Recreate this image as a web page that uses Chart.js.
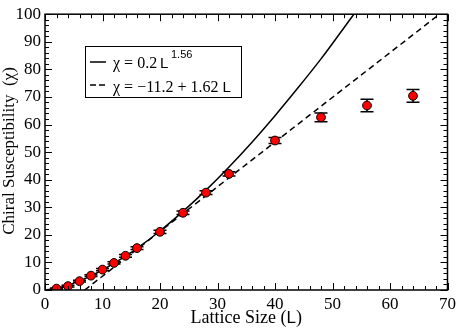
<!DOCTYPE html>
<html>
<head>
<meta charset="utf-8">
<script src="https://cdn.jsdelivr.net/npm/chart.js@4/dist/chart.umd.min.js"></script>
<style>
  html, body { margin: 0; padding: 0; background: #fff; }
  #wrap { width: 460px; height: 328px; }
</style>
</head>
<body>
<div id="wrap"><canvas id="chart"></canvas></div>
<script>
// measured points
const sizes = [2, 4, 6, 8, 10, 12, 14, 16, 20, 24, 28, 32, 40, 48, 56, 64];
const chi = [0.5, 1.4, 3.2, 5.2, 7.4, 9.8, 12.4, 15.2, 21.1, 28.0, 35.3, 42.1, 54.2, 62.6, 66.9, 70.4];
const chiErr = [0.2, 0.3, 0.3, 0.3, 0.4, 0.4, 0.5, 0.5, 0.6, 0.6, 0.7, 0.8, 1.1, 1.6, 2.3, 2.3];

// power law fit curve
const powerL = [0, 2, 4, 6, 8, 10, 12, 14, 16, 20, 24, 28, 32, 36, 40, 44, 48, 52, 54];
const powerChi = [0, 0.6, 1.7, 3.3, 5.1, 7.3, 9.7, 12.3, 15.1, 21.4, 28.5, 36.2, 44.6, 53.6, 63.2, 73.3, 83.8, 95.1, 100.8];

// linear fit, end points
const linearL = [6.9, 68.6];
const linearChi = [0, 100];

const xTicks = [0, 10, 20, 30, 40, 50, 60, 70];
const yTicks = [0, 10, 20, 30, 40, 50, 60, 70, 80, 90, 100];

const serif = '"Liberation Serif", "Times New Roman", serif';
const sans = '"Liberation Sans", Arial, sans-serif';

const toXY = (xs, ys) => xs.map((x, i) => ({ x: x, y: ys[i] }));

// frame, inward ticks on all four sides, axis titles, legend
const framePlugin = {
    id: 'frame',
    afterDraw(chart) {
        const { ctx, chartArea: a, scales } = chart;
        const xs = scales.x, ys = scales.y;
        ctx.save();
        ctx.strokeStyle = '#000';
        ctx.lineWidth = 1;
        ctx.beginPath();
        for (let v = 0; v <= 70; v += 2) {
            const px = Math.round(xs.getPixelForValue(v)) + 0.5;
            const len = v % 10 === 0 ? 7 : 4;
            ctx.moveTo(px, a.bottom); ctx.lineTo(px, a.bottom - len);
            ctx.moveTo(px, a.top); ctx.lineTo(px, a.top + len);
        }
        for (let v = 0; v <= 100; v += 2) {
            const py = Math.round(ys.getPixelForValue(v)) + 0.5;
            const len = v % 10 === 0 ? 7 : 4;
            ctx.moveTo(a.left, py); ctx.lineTo(a.left + len, py);
            ctx.moveTo(a.right, py); ctx.lineTo(a.right - len, py);
        }
        ctx.stroke();
        ctx.lineWidth = 1.5;
        ctx.strokeRect(a.left, a.top, a.right - a.left, a.bottom - a.top);

        // axis titles
        ctx.fillStyle = '#000';
        ctx.textAlign = 'left';
        ctx.textBaseline = 'alphabetic';
        const t1 = 'Lattice Size (', t2 = 'L', t3 = ')';
        ctx.font = '18px ' + serif;
        const w1 = ctx.measureText(t1).width, w3 = ctx.measureText(t3).width;
        ctx.font = '17px ' + sans;
        const w2 = ctx.measureText(t2).width;
        const x0 = (a.left + a.right) / 2 - (w1 + w2 + w3) / 2;
        const by = 323;
        ctx.font = '18px ' + serif;
        ctx.fillText(t1, x0, by);
        ctx.font = '17px ' + sans;
        ctx.fillText(t2, x0 + w1, by);
        ctx.font = '18px ' + serif;
        ctx.fillText(t3, x0 + w1 + w2, by);

        ctx.translate(13.5, 151);
        ctx.rotate(-Math.PI / 2);
        ctx.textAlign = 'center';
        ctx.font = '17px ' + serif;
        ctx.fillText('Chiral Susceptibility  (\u03c7)', 0, 0);
        ctx.restore();

        // legend box
        ctx.save();
        ctx.strokeStyle = '#000';
        ctx.lineWidth = 1;
        ctx.strokeRect(85.5, 46.5, 156, 51);
        ctx.lineWidth = 1.5;
        ctx.beginPath();
        ctx.moveTo(90, 62); ctx.lineTo(106, 62);
        ctx.stroke();
        ctx.setLineDash([6, 3]);
        ctx.beginPath();
        ctx.moveTo(90, 85); ctx.lineTo(107, 85);
        ctx.stroke();
        ctx.setLineDash([]);
        ctx.fillStyle = '#000';
        ctx.textAlign = 'left';
        ctx.textBaseline = 'alphabetic';
        ctx.font = '16px ' + serif;
        ctx.fillText('\u03c7 = 0.2', 113, 68);
        ctx.font = '15px ' + sans;
        ctx.fillText('L', 160, 68);
        ctx.font = '11px ' + sans;
        ctx.fillText('1.56', 171, 58);
        ctx.font = '16px ' + serif;
        const s2 = '\u03c7 = \u221211.2 + 1.62';
        ctx.fillText(s2, 113, 91.5);
        const w = ctx.measureText(s2).width;
        ctx.font = '15px ' + sans;
        ctx.fillText('L', 113 + w + 4, 91.5);
        ctx.restore();
    }
};

// error bars drawn just before the markers
const errorBarPlugin = {
    id: 'errorBars',
    beforeDatasetDraw(chart, args) {
        if (args.index !== 0) return;
        const { ctx, scales } = chart;
        ctx.save();
        ctx.strokeStyle = '#000';
        ctx.lineWidth = 1.5;
        ctx.beginPath();
        sizes.forEach((L, i) => {
            const px = scales.x.getPixelForValue(L);
            const top = scales.y.getPixelForValue(chi[i] + chiErr[i]);
            const bot = scales.y.getPixelForValue(chi[i] - chiErr[i]);
            ctx.moveTo(px, top); ctx.lineTo(px, bot);
            ctx.moveTo(px - 6.5, top); ctx.lineTo(px + 6.5, top);
            ctx.moveTo(px - 6.5, bot); ctx.lineTo(px + 6.5, bot);
        });
        ctx.stroke();
        ctx.restore();
    }
};

new Chart(document.getElementById('chart'), {
    type: 'scatter',
    data: {
        datasets: [
            {
                label: 'data',
                data: toXY(sizes, chi),
                backgroundColor: '#ff0000',
                borderColor: '#000',
                borderWidth: 1,
                pointRadius: 4.4,
                pointHoverRadius: 4.4,
                showLine: false
            },
            {
                label: 'power',
                data: toXY(powerL, powerChi),
                showLine: true,
                borderColor: '#000',
                borderWidth: 1.5,
                pointRadius: 0,
                cubicInterpolationMode: 'monotone',
                fill: false
            },
            {
                label: 'linear',
                data: toXY(linearL, linearChi),
                showLine: true,
                borderColor: '#000',
                borderWidth: 1.5,
                borderDash: [6, 4],
                pointRadius: 0,
                fill: false
            }
        ]
    },
    options: {
        responsive: true,
        maintainAspectRatio: false,
        animation: false,
        events: [],
        layout: { padding: { top: 6, right: 10, left: 0, bottom: 0 } },
        plugins: {
            legend: { display: false },
            tooltip: { enabled: false }
        },
        scales: {
            x: {
                type: 'linear',
                min: 0, max: 70,
                afterFit: s => { s.height = 38; },
                afterBuildTicks: s => { s.ticks = xTicks.map(v => ({ value: v })); },
                grid: { display: false, drawTicks: false },
                border: { display: false },
                ticks: { color: '#000', padding: 4, maxRotation: 0, font: { family: serif, size: 17 } }
            },
            y: {
                type: 'linear',
                min: 0, max: 100,
                afterFit: s => { s.width = 45; },
                afterBuildTicks: s => { s.ticks = yTicks.map(v => ({ value: v })); },
                grid: { display: false, drawTicks: false },
                border: { display: false },
                ticks: { color: '#000', padding: 4, font: { family: serif, size: 17 } }
            }
        }
    },
    plugins: [errorBarPlugin, framePlugin]
});
</script>
</body>
</html>
